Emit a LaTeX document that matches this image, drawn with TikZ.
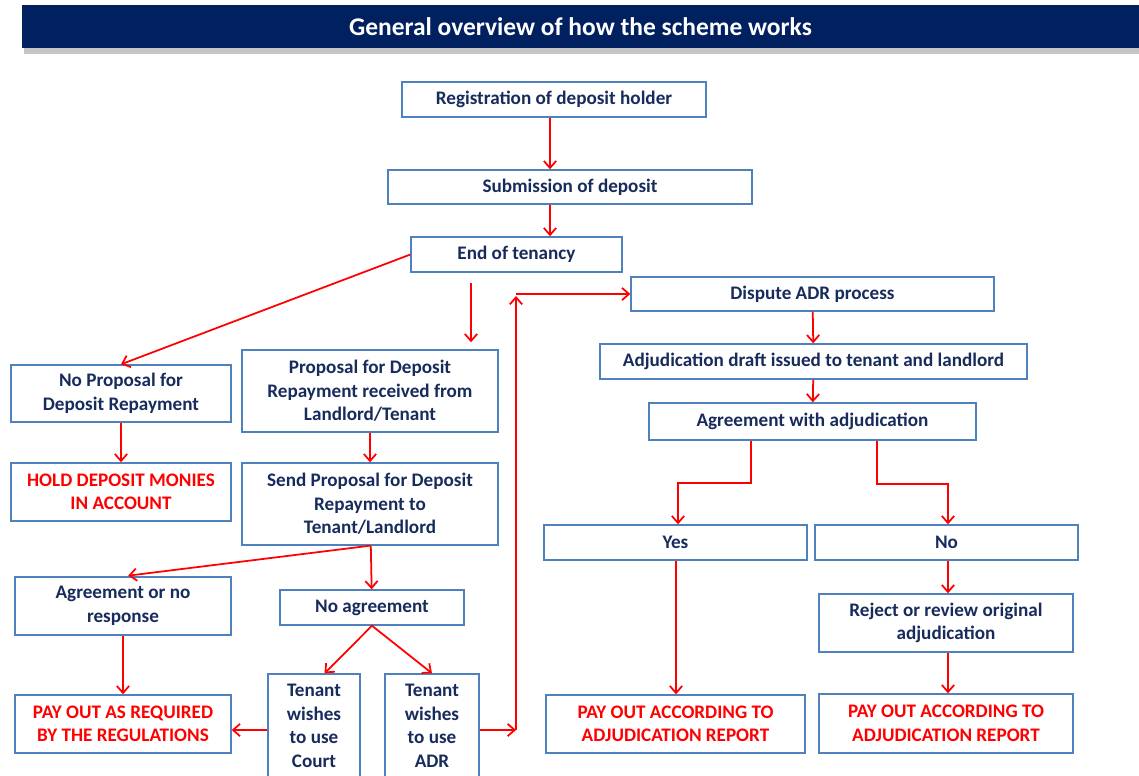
\documentclass[tikz,border=0pt]{standalone}
\usepackage{fontspec}
\setmainfont{Carlito}
\usepackage{tikz}
\usetikzlibrary{arrows.meta,positioning}
\definecolor{navy}{RGB}{0,32,96}
\definecolor{boxline}{RGB}{79,129,189}
\definecolor{boxtext}{RGB}{23,43,92}
\definecolor{arrowred}{RGB}{255,0,0}

\begin{document}
\begin{tikzpicture}[x=0.02cm,y=-0.02cm]
	\tikzset{box/.style={draw=boxline,line width=0.8pt,fill=white,align=center,inner sep=2pt,text=boxtext,font=\fontsize{10.9}{13.4}\selectfont\bfseries}}
	\tikzset{payout/.style={box,text=arrowred}}
	\tikzset{link/.style={color=arrowred,line width=1pt,-{Straight Barb[length=4pt,width=7pt]}}}
	\useasboundingbox (0,0) rectangle (1139,775);
	\fill[gray!45] (24,46) rectangle (1139,54);
	\node[fill=navy,text=white,minimum width=22.34cm,minimum height=0.86cm,font=\fontsize{14.5}{16}\selectfont\bfseries] (title) at (580.5,26.5) {General overview of how the scheme works};
	\node[box,minimum width=6.08cm,minimum height=0.70cm] (reg) at (554,99.5) {Registration of deposit holder};
	\node[box,minimum width=7.28cm,minimum height=0.68cm] (sub) at (570,187) {Submission of deposit};
	\node[box,minimum width=4.22cm,minimum height=0.70cm] (eot) at (516.5,254.5) {End of tenancy};
	\node[box,minimum width=7.26cm,minimum height=0.68cm] (dispute) at (812.5,294) {Dispute ADR process};
	\node[box,minimum width=8.54cm,minimum height=0.70cm] (draft) at (813.5,361.5) {Adjudication draft issued to tenant and landlord};
	\node[box,minimum width=6.54cm,minimum height=0.74cm] (agreeadj) at (812.5,421.5) {Agreement with adjudication};
	\node[box,minimum width=5.26cm,minimum height=0.70cm] (yes) at (675.5,542.5) {Yes};
	\node[box,minimum width=5.26cm,minimum height=0.70cm] (no) at (946.5,542.5) {No};
	\node[box,minimum width=5.08cm,minimum height=1.16cm] (reject) at (946,623) {Reject or review original\\adjudication};
	\node[payout,minimum width=5.18cm,minimum height=1.16cm] (payyes) at (675.5,724) {PAY OUT ACCORDING TO\\ADJUDICATION REPORT};
	\node[payout,minimum width=5.08cm,minimum height=1.18cm] (payno) at (946,723.5) {PAY OUT ACCORDING TO\\ADJUDICATION REPORT};
	\node[box,minimum width=4.40cm,minimum height=1.14cm] (noprop) at (121,393.5) {No Proposal for\\Deposit Repayment};
	\node[payout,minimum width=4.40cm,minimum height=1.16cm] (hold) at (121,492) {HOLD DEPOSIT MONIES\\IN ACCOUNT};
	\node[box,minimum width=5.12cm,minimum height=1.64cm] (prop) at (370,391) {Proposal for Deposit\\Repayment received from\\Landlord/Tenant};
	\node[box,minimum width=5.12cm,minimum height=1.64cm] (send) at (370,504) {Send Proposal for Deposit\\Repayment to\\Tenant/Landlord};
	\node[box,minimum width=4.32cm,minimum height=1.16cm] (agreeno) at (123,606) {Agreement or no\\response};
	\node[box,minimum width=3.68cm,minimum height=0.70cm] (noagree) at (372,607.5) {No agreement};
	\node[payout,minimum width=4.32cm,minimum height=1.16cm] (payreg) at (123,724) {PAY OUT AS REQUIRED\\BY THE REGULATIONS};
	\node[box,minimum width=1.84cm,minimum height=2.08cm] (court) at (314,726) {Tenant\\wishes\\to use\\Court};
	\node[box,minimum width=1.88cm,minimum height=2.08cm] (useadr) at (432,726) {Tenant\\wishes\\to use\\ADR};
	\coordinate (turn) at (516,730);
	\coordinate (rise) at (516,296);
	\path[link]
		(reg.south -| 550,0) edge (sub.north -| 550,0)
		(sub.south -| 550,0) edge (eot.north -| 550,0)
		(eot.west) edge (noprop.north)
		(eot.south -| 471,0) edge[shorten <=6pt,shorten >=4pt] (prop.north -| 471,0)
		(noprop) edge (hold)
		(prop) edge (send)
		(send.south) edge[shorten >=3pt] (agreeno.north)
		(send) edge (noagree)
		(noagree.south) edge ([xshift=6pt]court.north)
		(noagree.south) edge (useadr.north)
		(agreeno) edge (payreg)
		(court.west |- 0,730) edge (payreg.east |- 0,730)
		(useadr.east |- turn) edge (turn)
		(turn) edge (rise)
		(dispute.west -| rise) edge (dispute.west)
		(dispute) edge (draft)
		(draft) edge (agreeadj)
		(yes.south -| 676,0) edge (payyes.north -| 676,0)
		(no.south -| 948,0) edge (reject.north -| 948,0)
		(reject.south -| 948,0) edge (payno.north -| 948,0);
	\draw[link] (agreeadj.south -| 751,0) -- (751,483) -- (678,483) -- (yes.north -| 678,0);
	\draw[link] (agreeadj.south -| 877,0) -- (877,484) -- (948,484) -- (no.north -| 948,0);
\end{tikzpicture}
\end{document}
